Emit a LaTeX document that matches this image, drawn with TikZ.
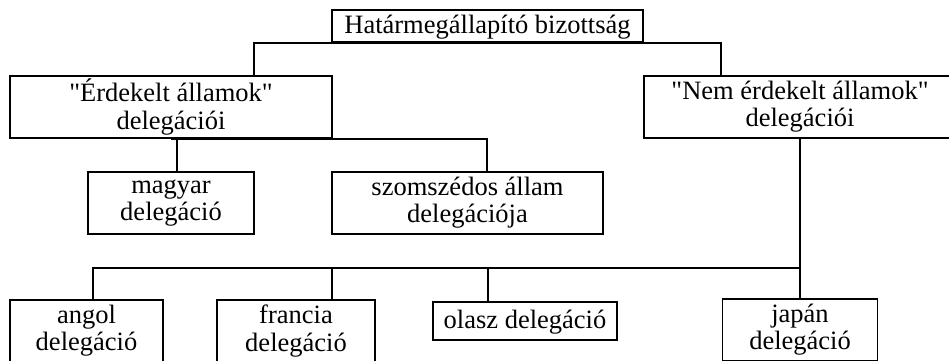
\documentclass[tikz,border=0pt]{standalone}
\usepackage{fontspec}
\setmainfont{Liberation Serif}
\newcommand\lnstrut{\rule[-6pt]{0pt}{27.5pt}}
\begin{document}
\begin{tikzpicture}[x=1pt,y=-1pt,
  box/.style={draw,line width=1.8pt,inner sep=0pt,align=center,
    font=\fontsize{26.5}{27.5}\selectfont,
    execute at begin node=\lnstrut, execute at end node=\lnstrut},
  conn/.style={line width=1.8pt}]
\useasboundingbox (0,0) rectangle (949,360);
\clip (0,0) rectangle (949,360);
\node[box,minimum width=311pt,minimum height=32pt] (top) at (487.5,26) {Határmegállapító bizottság};
\node[box,minimum width=322pt,minimum height=62pt] (erd) at (171,107) {\textquotedbl Érdekelt államok\textquotedbl\\delegációi};
\node[box,minimum width=312pt,minimum height=62pt] (nem) at (800,107) {\textquotedbl Nem érdekelt államok\textquotedbl\\delegációi};
\node[box,minimum width=166pt,minimum height=62pt] (mag) at (171,203) {magyar\\delegáció};
\node[box,minimum width=271pt,minimum height=62pt] (szo) at (467.5,203) {szomszédos állam\\delegációja};
\node[box,minimum width=153pt,minimum height=62pt] (ang) at (86.5,331) {angol\\delegáció};
\node[box,minimum width=158pt,minimum height=62pt] (fra) at (296,331) {francia\\delegáció};
\node[box,minimum width=184pt,minimum height=38pt] (ola) at (525,321) {olasz delegáció};
\node[box,minimum width=155pt,minimum height=62pt] (jap) at (800,330) {japán\\delegáció};
\coordinate (c1) at (254,76);
\coordinate (c2) at (721,76);
\coordinate (c3) at (177,172);
\coordinate (c4) at (487,172);
\coordinate (j) at (800,268);
\coordinate (a1) at (93,300);
\coordinate (f1) at (332,300);
\coordinate (o1) at (488,302);
\draw[conn] (c1) |- (top.south) -| (c2);
\draw[conn] (c3) |- (erd.south) -| (c4);
\draw[conn] (nem.south) -- (jap.north);
\draw[conn] (j) -| (a1);
\draw[conn] (f1) -- (f1 |- j);
\draw[conn] (o1) -- (o1 |- j);
\end{tikzpicture}
\end{document}
